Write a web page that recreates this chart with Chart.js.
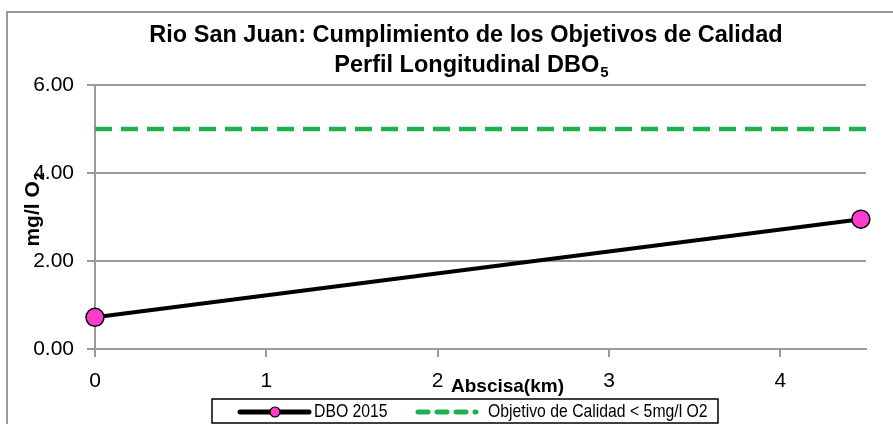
<!DOCTYPE html>
<html>
<head>
<meta charset="utf-8">
<script src="https://cdn.jsdelivr.net/npm/chart.js@4.4.1/dist/chart.umd.min.js"></script>
<style>
  html, body { margin: 0; padding: 0; background: #fff; }
  #wrap { position: relative; width: 893px; height: 424px; }
</style>
</head>
<body>
<div id="wrap"><canvas id="chart" width="893" height="424"></canvas></div>
<script>
// data
const abscisaKm = [0, 4.47];
const dbo2015 = [0.72, 2.95];
const objetivoX = [0, 4.5];
const objetivoY = [5, 5];
const yTicks = [0, 2, 4, 6];
const xTicks = [0, 1, 2, 3, 4];

const titleLine1 = 'Rio San Juan: Cumplimiento de los Objetivos de Calidad';
const titleLine2 = 'Perfil Longitudinal DBO';
const titleSub = '5';
const yTitle = 'mg/l O';
const ySub = '2';
const xTitle = 'Abscisa(km)';

const FONT = '"Liberation Sans", Arial, sans-serif';

// text squeezed horizontally, the reference uses a narrow face
function narrowText(ctx, text, x, y, sx) {
  ctx.save();
  ctx.translate(x, y);
  ctx.scale(sx, 1);
  ctx.fillText(text, 0, 0);
  ctx.restore();
  return ctx.measureText(text).width * sx;
}

const decorPlugin = {
  id: 'decor',
  beforeDraw(chart) {
    const ctx = chart.ctx;
    ctx.save();
    ctx.fillStyle = '#fff';
    ctx.fillRect(0, 0, chart.width, chart.height);
    ctx.strokeStyle = '#9a9a9a';
    ctx.lineWidth = 2;
    ctx.strokeRect(7, 12, 1000, 1000);
    ctx.restore();
  },
  afterDraw(chart) {
    const ctx = chart.ctx;
    ctx.save();
    ctx.fillStyle = '#000';
    ctx.textBaseline = 'alphabetic';

    // title
    ctx.font = 'bold 23.5px ' + FONT;
    ctx.textAlign = 'center';
    ctx.fillText(titleLine1, 466, 42);
    const w2 = ctx.measureText(titleLine2).width;
    ctx.font = 'bold 15px ' + FONT;
    const ws = ctx.measureText(titleSub).width;
    const start2 = 471 - (w2 + ws) / 2;
    ctx.textAlign = 'left';
    ctx.font = 'bold 23.5px ' + FONT;
    ctx.fillText(titleLine2, start2, 72);
    ctx.font = 'bold 15px ' + FONT;
    ctx.fillText(titleSub, start2 + w2 + 1, 77);

    // y axis title
    ctx.save();
    ctx.translate(39, 210);
    ctx.rotate(-Math.PI / 2);
    ctx.font = 'bold 21px ' + FONT;
    const wy = ctx.measureText(yTitle).width;
    ctx.font = 'bold 14px ' + FONT;
    const wys = ctx.measureText(ySub).width;
    const sy = -(wy + wys) / 2;
    ctx.font = 'bold 21px ' + FONT;
    ctx.fillText(yTitle, sy, 0);
    ctx.font = 'bold 14px ' + FONT;
    ctx.fillText(ySub, sy + wy + 1, 5);
    ctx.restore();

    // x axis title
    ctx.font = 'bold 19px ' + FONT;
    ctx.textAlign = 'left';
    ctx.fillText(xTitle, 451, 392);

    // legend
    const bx = 212, by = 399, bw = 506, bh = 24;
    ctx.strokeStyle = '#000';
    ctx.lineWidth = 1.5;
    ctx.strokeRect(bx, by, bw, bh);
    const cy = by + bh / 2 + 1;
    const ds = chart.data.datasets;

    ctx.strokeStyle = ds[0].borderColor;
    ctx.lineWidth = 5;
    ctx.lineCap = 'round';
    ctx.beginPath();
    ctx.moveTo(240, cy);
    ctx.lineTo(309, cy);
    ctx.stroke();
    ctx.lineCap = 'butt';
    ctx.beginPath();
    ctx.arc(275, cy, 5, 0, Math.PI * 2);
    ctx.fillStyle = ds[0].pointBackgroundColor;
    ctx.fill();
    ctx.lineWidth = 1.2;
    ctx.strokeStyle = '#000';
    ctx.stroke();

    ctx.strokeStyle = ds[1].borderColor;
    ctx.lineWidth = 5;
    ctx.lineCap = 'round';
    ctx.setLineDash([10, 9]);
    ctx.beginPath();
    ctx.moveTo(418, cy);
    ctx.lineTo(476, cy);
    ctx.stroke();
    ctx.setLineDash([]);
    ctx.lineCap = 'butt';

    ctx.fillStyle = '#000';
    ctx.font = '19px ' + FONT;
    ctx.textBaseline = 'middle';
    narrowText(ctx, ds[0].label, 314, cy, 0.83);
    narrowText(ctx, ds[1].label, 488, cy, 0.83);
    ctx.restore();
  }
};

const ctx = document.getElementById('chart').getContext('2d');
new Chart(ctx, {
  type: 'scatter',
  data: {
    datasets: [
      {
        label: 'DBO 2015',
        data: abscisaKm.map((x, i) => ({ x: x, y: dbo2015[i] })),
        showLine: true,
        clip: false,
        borderColor: '#000',
        borderWidth: 4,
        pointRadius: 9,
        pointHoverRadius: 9,
        pointBackgroundColor: '#ff3ccc',
        pointBorderColor: '#000',
        pointBorderWidth: 1.5,
        order: 0
      },
      {
        label: 'Objetivo de Calidad < 5mg/l O2',
        data: objetivoX.map((x, i) => ({ x: x, y: objetivoY[i] })),
        showLine: true,
        clip: false,
        borderColor: '#1fb050',
        borderWidth: 4.5,
        borderDash: [17, 9],
        pointRadius: 0,
        order: 1
      }
    ]
  },
  options: {
    responsive: false,
    animation: false,
    layout: { padding: { left: 0, right: 27, top: 85, bottom: 0 } },
    plugins: {
      legend: { display: false },
      title: { display: false },
      tooltip: { enabled: false }
    },
    scales: {
      x: {
        type: 'linear',
        min: 0,
        max: 4.5,
        afterBuildTicks(scale) { scale.ticks = xTicks.map(v => ({ value: v })); },
        afterFit(scale) { scale.height = 75; },
        border: { color: '#9a9a9a', width: 2 },
        grid: { drawOnChartArea: false, color: '#9a9a9a', lineWidth: 2, tickLength: 8 },
        ticks: {
          color: '#000',
          padding: 12,
          font: { family: FONT, size: 21 },
          callback: v => String(v)
        }
      },
      y: {
        min: 0,
        max: 6,
        afterBuildTicks(scale) { scale.ticks = yTicks.map(v => ({ value: v })); },
        afterFit(scale) { scale.width = 95; },
        border: { color: '#9a9a9a', width: 2 },
        grid: { color: '#9a9a9a', lineWidth: 2, tickLength: 8 },
        ticks: {
          color: '#000',
          padding: 13,
          font: { family: FONT, size: 21 },
          callback: v => v.toFixed(2)
        }
      }
    }
  },
  plugins: [decorPlugin]
});
</script>
</body>
</html>
